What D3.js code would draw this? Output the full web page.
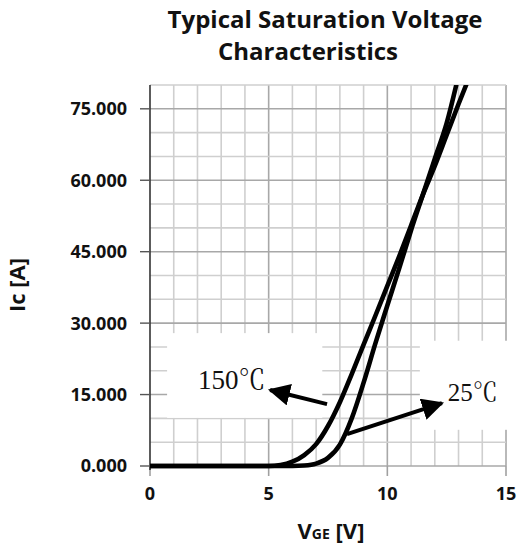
<!DOCTYPE html>
<html><head><meta charset="utf-8">
<script src="https://cdn.jsdelivr.net/npm/d3@7"></script>
<style>body{margin:0;background:#fff}</style>
</head><body><svg id="c" width="518" height="549"></svg>
<script>
// ---- data ----
const titleLines = ["Typical Saturation Voltage", "Characteristics"];
const xTicks = [0, 5, 10, 15];
const yTicks = [0, 15, 30, 45, 60, 75];
const yTickLabels = ["0.000", "15.000", "30.000", "45.000", "60.000", "75.000"];
const seriesNames = ["150℃", "25℃"];
const vge150 = [0, 5.0, 5.5, 6.0, 6.5, 7.0, 7.5, 8.0, 8.5, 9.0, 9.5, 10.0, 10.5, 11.0, 11.5, 12.0, 12.5, 13.0, 13.4];
const ic150  = [0, 0.0, 0.2, 0.9, 2.3, 4.6, 8.4, 13.4, 19.3, 25.5, 31.6, 37.8, 44.0, 50.5, 57.0, 63.0, 69.5, 76.0, 81.0];
const vge25  = [0, 6.0, 6.5, 7.0, 7.5, 8.0, 8.5, 9.0, 9.5, 10.0, 10.5, 11.0, 11.5, 12.0, 12.5, 13.0];
const ic25   = [0, 0.0, 0.1, 0.5, 1.7, 4.5, 10.0, 17.5, 25.8, 33.7, 41.5, 49.5, 57.0, 64.5, 72.0, 82.0];
// annotation anchors (data units)
const label150 = {box:[0.72, 10.1, 7.26, 27.9], text:[2.02, 16.2], arrowFrom:[7.46, 13.0], arrowTo:[5.06, 15.96]};
const label25  = {box:[11.37, 7.6, 15.6, 26.3], text:[12.55, 13.6], arrowFrom:[8.30, 6.7], arrowTo:[12.30, 13.2]};

// ---- layout ----
const svg = d3.select("#c");
const L = 150, R = 506, T = 85, B = 466;
const x = d3.scaleLinear().domain([0, 15]).range([L, R]);
const y = d3.scaleLinear().domain([0, 80]).range([B, T]);

svg.append("rect").attr("width", 518).attr("height", 549).attr("fill", "#fff");

// grid
const g = svg.append("g");
const vLines = d3.range(1, 16);
const hLines = d3.range(5, 85, 5);
g.selectAll(".vg").data(vLines).join("line")
  .attr("x1", d => x(d)).attr("x2", d => x(d)).attr("y1", y(80)).attr("y2", y(0))
  .attr("stroke", d => d % 5 === 0 ? "#a8a8a8" : "#cfcfcf").attr("stroke-width", 1.6);
g.selectAll(".hg").data(hLines).join("line")
  .attr("x1", x(0)).attr("x2", x(15)).attr("y1", d => y(d)).attr("y2", d => y(d))
  .attr("stroke", d => d % 15 === 0 ? "#a8a8a8" : "#cfcfcf").attr("stroke-width", 1.6);

// white label boxes
[label150, label25].forEach(l => {
  const [v0, i0, v1, i1] = l.box;
  svg.append("rect").attr("x", x(v0)).attr("y", y(i1))
    .attr("width", x(v1) - x(v0)).attr("height", y(i0) - y(i1)).attr("fill", "#fff");
});

// axes
svg.append("line").attr("x1", x(0)).attr("x2", x(15)).attr("y1", y(0)).attr("y2", y(0))
  .attr("stroke", "#a8a8a8").attr("stroke-width", 1.6);
svg.selectAll(".xt").data(xTicks).join("line")
  .attr("x1", d => x(d)).attr("x2", d => x(d)).attr("y1", y(0)).attr("y2", y(0) + 10)
  .attr("stroke", "#a0a0a0").attr("stroke-width", 1.6);
svg.append("line").attr("x1", x(0)).attr("x2", x(0)).attr("y1", y(80)).attr("y2", y(0) + 4)
  .attr("stroke", "#333").attr("stroke-width", 1.6);
svg.selectAll(".yt").data(yTicks).join("line")
  .attr("x1", x(0) - 10).attr("x2", x(0)).attr("y1", d => y(d)).attr("y2", d => y(d))
  .attr("stroke", "#555").attr("stroke-width", 1.4);

const font = "'Open Sans', 'Noto Sans', sans-serif";
svg.selectAll(".yl").data(yTicks).join("text")
  .attr("x", 127).attr("y", d => y(d)).attr("dy", "0.36em")
  .attr("text-anchor", "end").attr("font-family", font).attr("font-weight", 700)
  .attr("font-size", 18).attr("fill", "#111").text((d, i) => yTickLabels[i]);
svg.selectAll(".xl").data(xTicks).join("text")
  .attr("x", d => x(d)).attr("y", 500)
  .attr("text-anchor", "middle").attr("font-family", font).attr("font-weight", 700)
  .attr("font-size", 18).attr("fill", "#111").text(d => d);

// title
svg.append("text").attr("x", 325).attr("y", 28).attr("text-anchor", "middle")
  .attr("font-family", font).attr("font-weight", 700).attr("font-size", 24).attr("fill", "#111")
  .text(titleLines[0]);
svg.append("text").attr("x", 308).attr("y", 60).attr("text-anchor", "middle")
  .attr("font-family", font).attr("font-weight", 700).attr("font-size", 24).attr("fill", "#111")
  .text(titleLines[1]);

// axis titles
svg.append("text").attr("transform", "translate(25,285) rotate(-90)").attr("text-anchor", "middle")
  .attr("font-family", font).attr("font-weight", 700).attr("font-size", 22).attr("fill", "#111")
  .text("Ic [A]");
const xt = svg.append("text").attr("x", 331).attr("y", 539).attr("text-anchor", "middle")
  .attr("font-family", font).attr("font-weight", 700).attr("fill", "#111");
xt.append("tspan").attr("font-size", 22).text("V");
xt.append("tspan").attr("font-size", 14).text("GE");
xt.append("tspan").attr("font-size", 22).text(" [V]");

// curves
svg.append("clipPath").attr("id", "clip").append("rect")
  .attr("x", L).attr("y", T).attr("width", R - L).attr("height", B - T + 10);
const line = d3.line().x(d => x(d[0])).y(d => y(d[1])).curve(d3.curveMonotoneX);
const s150 = vge150.map((v, i) => [v, ic150[i]]);
const s25 = vge25.map((v, i) => [v, ic25[i]]);
[s150, s25].forEach(s => {
  svg.append("path").attr("d", line(s)).attr("clip-path", "url(#clip)")
    .attr("fill", "none").attr("stroke", "#000").attr("stroke-width", 4.6);
});

// arrows
svg.append("defs").append("marker").attr("id", "ah").attr("viewBox", "0 0 10 10")
  .attr("refX", 9).attr("refY", 5).attr("markerWidth", 5.5).attr("markerHeight", 5.5)
  .attr("markerUnits", "strokeWidth").attr("orient", "auto")
  .append("path").attr("d", "M0,0 L10,5 L0,10 Z").attr("fill", "#000");
[label150, label25].forEach(l => {
  svg.append("line").attr("x1", x(l.arrowFrom[0])).attr("y1", y(l.arrowFrom[1]))
    .attr("x2", x(l.arrowTo[0])).attr("y2", y(l.arrowTo[1]))
    .attr("stroke", "#000").attr("stroke-width", 4).attr("marker-end", "url(#ah)");
});

// labels
const serif = "'Liberation Serif', 'Noto Serif CJK SC', 'Noto Sans CJK SC', serif";
svg.append("text").attr("x", x(label150.text[0])).attr("y", y(label150.text[1]))
  .attr("font-family", serif).attr("font-size", 27).attr("fill", "#111").text(seriesNames[0]);
svg.append("text").attr("x", x(label25.text[0])).attr("y", y(label25.text[1]))
  .attr("font-family", serif).attr("font-size", 25).attr("fill", "#111").text(seriesNames[1]);
</script></body></html>
